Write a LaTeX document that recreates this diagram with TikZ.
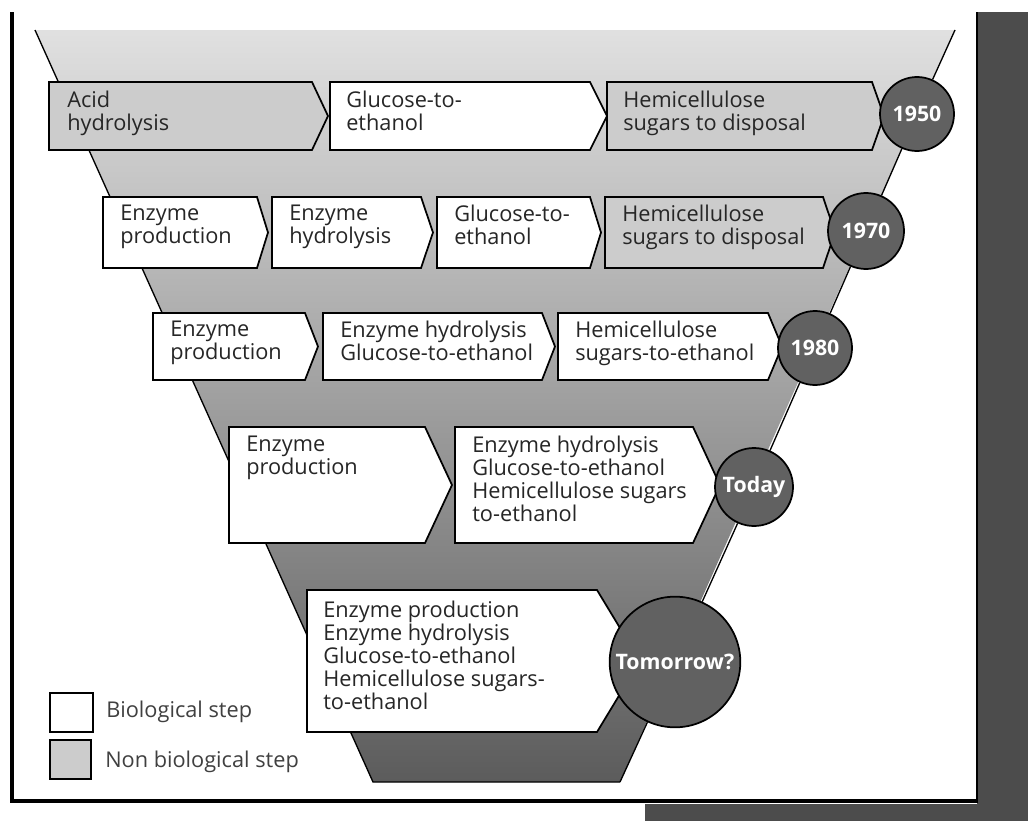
\documentclass[tikz,border=0pt]{standalone}
\usepackage{fontspec}
\setmainfont{Open Sans}
\usetikzlibrary{calc}
\tikzset{
  boxline/.style={draw=black, line width=1.3pt, line join=miter},
  bio/.style={fill=white},
  nonbio/.style={fill=black!20},
  edge/.style={draw=black, line width=1pt},
  lbl/.style={anchor=north west, inner sep=0pt, align=left,
    font=\fontsize{16.3}{17.25}\selectfont, text=black!85},
  yearc/.style={circle, draw=black, line width=1.3pt, fill=black!62, text=white,
    font=\bfseries\fontsize{16}{16}\selectfont, inner sep=0pt},
  frameline/.style={draw=black, line width=3pt}
}
% #1 x left, #2 y top, #3 x right corner, #4 tip x, #5 y bottom, #6 style
\newcommand\stepshape[6]{\draw[boxline,#6] (#1,#2) -- (#3,#2) -- (#4,{(#2+#5)/2}) -- (#3,#5) -- (#1,#5) -- cycle;}
\begin{document}
\begin{tikzpicture}[x=0.75pt,y=-0.75pt]
\useasboundingbox (0,0) rectangle (1028,821);
\fill[white] (0,0) rectangle (1028,821);
% photo background: dark strips
\fill[black!70] (977,12) rectangle (1028,821);
\fill[black!70] (645,804) rectangle (1028,821);
\draw[frameline] (12,12) -- (12,803);
\draw[frameline] (11,801) -- (978,801);
\draw[draw=black, line width=2pt] (977,12) -- (977,803);
% funnel
\coordinate (tl) at (35,30);
\coordinate (tr) at (955,30);
\coordinate (br) at (620,782);
\coordinate (bl) at (373,782);
\shade[top color=black!12, bottom color=black!64] (tl) -- (tr) -- (br) -- (bl) -- cycle;
\draw[edge] (tl) -- (bl) -- (br);
% row 1950
\stepshape{49}{82}{312}{328}{150}{nonbio}
\stepshape{330}{82}{590}{607}{150}{bio}
\stepshape{607}{82}{872}{884}{150}{nonbio}
\node[lbl] (a1) at (67,91) {Acid\\hydrolysis};
\node[lbl] (a2) at (346,91) {Glucose-to-\\ethanol};
\node[lbl] (a3) at (623,91) {Hemicellulose\\sugars to disposal};
% row 1970
\stepshape{103}{197}{257}{268}{268}{bio}
\stepshape{272}{197}{421}{433}{268}{bio}
\stepshape{437}{197}{590}{601}{268}{bio}
\stepshape{605}{197}{823}{835}{268}{nonbio}
\node[lbl] (b1) at (120,205) {Enzyme\\production};
\node[lbl] (b2) at (289,205) {Enzyme\\hydrolysis};
\node[lbl] (b3) at (454,205) {Glucose-to-\\ethanol};
\node[lbl] (b4) at (622,205) {Hemicellulose\\sugars to disposal};
% row 1980
\stepshape{153}{313}{305}{318}{380}{bio}
\stepshape{323}{313}{542}{555}{380}{bio}
\stepshape{558}{313}{768}{782}{380}{bio}
\node[lbl] (c1) at (170,321) {Enzyme\\production};
\node[lbl] (c2) at (340,321) {Enzyme hydrolysis\\Glucose-to-ethanol};
\node[lbl] (c3) at (575,321) {Hemicellulose\\sugars-to-ethanol};
% row today
\stepshape{229}{427}{425}{452}{543}{bio}
\stepshape{455}{427}{693}{720}{543}{bio}
\node[lbl] (d1) at (246,436) {Enzyme\\production};
\node[lbl] (d2) at (472,436) {Enzyme hydrolysis\\Glucose-to-ethanol\\Hemicellulose sugars\\to-ethanol};
% row tomorrow
\stepshape{307}{590}{597}{640}{732}{bio}
\node[lbl] (e1) at (323,601) {Enzyme production\\Enzyme hydrolysis\\Glucose-to-ethanol\\Hemicellulose sugars-\\to-ethanol};
% year circles
\node[yearc, minimum size=55.5pt] (y1950) at (917,114) {1950};
\node[yearc, minimum size=57pt] (y1970) at (866,231) {1970};
\node[yearc, minimum size=55.5pt] (y1980) at (815,348) {1980};
\node[yearc, minimum size=58.5pt] (ytoday) at (754,487) {Today};
\node[yearc, minimum size=98pt] (ytom) at (675,662) {Tomorrow?};
% right edge of funnel
\draw[edge] (tr) -- (y1950);
\draw[edge] (y1950) -- (y1970);
\draw[edge] (y1970) -- (y1980);
\draw[edge] (y1980) -- (ytoday);
\draw[edge] (ytoday) -- (ytom);
\draw[edge] (ytom) -- (br);
% legend
\draw[boxline, bio] (50,693) rectangle (93,732);
\draw[boxline, nonbio] (50,740) rectangle (91,779);
\node[lbl, anchor=west, text=black!75] (lg1) at (106,712) {Biological step};
\node[lbl, anchor=west, text=black!75] (lg2) at (105,762) {Non biological step};
\end{tikzpicture}
\end{document}
